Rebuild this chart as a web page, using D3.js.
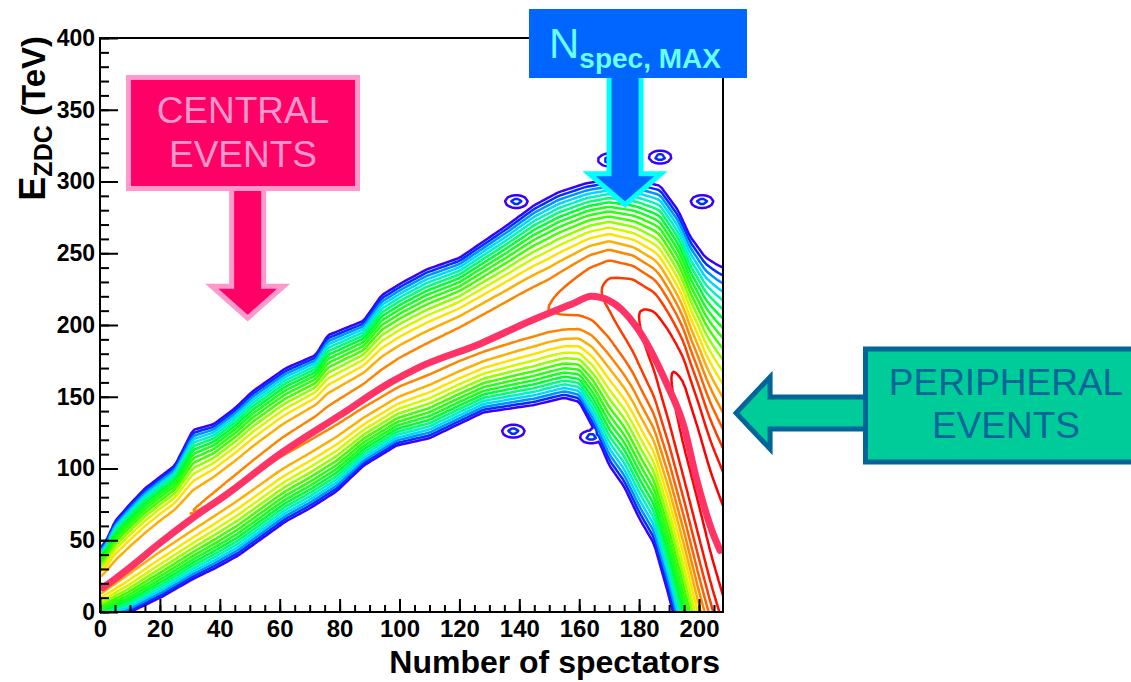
<!DOCTYPE html>
<html>
<head>
<meta charset="utf-8">
<script src="https://cdn.jsdelivr.net/npm/d3@7"></script>
<style>
  body { margin: 0; background: #fff; }
  svg { display: block; }
</style>
</head>
<body>
<div id="chart"></div>
<script>
// ridge line of the event band (centre of the densest region)
const ridgeX = [0, 10, 20, 30, 43, 60, 80, 100, 120, 140, 155, 164, 170, 178, 185, 190, 195, 200, 204, 208, 214];
const ridgeY = [18, 36, 53, 68, 88, 114, 140, 166, 186, 204, 216, 224, 224, 212, 192, 168, 140, 102, 68, 40, 0];
// outermost contour, upper side
const upperX = [0, 2, 5, 10, 15, 20, 25, 31, 38, 45, 51, 62, 72, 76, 88, 94, 101, 109, 120, 136, 145, 153, 162, 170, 180, 187, 193, 197, 202, 206, 214];
const upperY = [45, 50, 64, 76, 87, 95, 103, 128, 132, 143, 155, 171, 180, 194, 204, 222, 231, 240, 248, 271, 285, 294, 300, 303, 302, 299, 282, 264, 250, 245, 238];
// outermost contour, lower side
const lowerX = [0, 9, 21, 31, 38, 46, 62, 70, 79, 88, 99, 110, 128, 145, 155, 160, 165, 170, 175, 180, 185, 190, 195, 200, 214];
const lowerY = [-6, -2, 10, 22, 29, 38, 62, 71, 83, 101, 115, 120, 138, 143, 148, 145, 125, 100, 85, 63, 45, 8, -35, -80, -170];
// relative height of the band along x
const peakX = [0, 60, 120, 150, 165, 180, 195, 214];
const peakV = [0.72, 0.74, 0.76, 0.78, 0.82, 0.88, 0.95, 0.96];
// isolated small clusters
const islands = [[139, 286], [170, 315], [187, 317], [201, 286], [138, 126], [164, 122]];
// fitted curve
const fitX = [1, 5, 10, 20, 30, 43, 60, 80, 97, 106, 127, 145, 158, 164, 170, 179, 189, 195, 199, 204.6, 207];
const fitY = [17, 23, 31, 48, 64, 83, 110, 137, 160, 170, 187, 204, 215, 220, 217, 199, 160, 129, 94, 55, 43];

const xTicks = d3.range(0, 201, 20);
const xMinor = d3.range(0, 208, 5);
const yTicks = d3.range(0, 401, 50);
const yMinor = d3.range(0, 401, 10);

const W = 1131, H = 682;
const m = { left: 100, right: 723, top: 38, bottom: 612 };

const svg = d3.select('#chart').append('svg')
  .attr('width', W).attr('height', H)
  .attr('font-family', '"Liberation Sans", Arial, sans-serif');

const x = d3.scaleLinear().domain([0, 208]).range([m.left, m.right]);
const y = d3.scaleLinear().domain([0, 400]).range([m.bottom, m.top]);

// density table for the contour generator
const gx0 = -10, gdx = 1, nx = 230;
const gy0 = -120, gdy = 2.5, ny = 208;
const ridgeAt = d3.scaleLinear(ridgeX, ridgeY).clamp(true);
const upperAt = d3.scaleLinear(upperX, upperY).clamp(true);
const lowerAt = d3.scaleLinear(lowerX, lowerY).clamp(true);
const peakAt = d3.scaleLinear(peakX, peakV).clamp(true);

const values = new Float64Array(nx * ny);
for (let j = 0; j < ny; j++) {
  const yy = gy0 + (j + 0.5) * gdy;
  for (let i = 0; i < nx; i++) {
    const xx = gx0 + (i + 0.5) * gdx;
    const c = ridgeAt(xx);
    const t = yy >= c ? (yy - c) / (upperAt(xx) - c) : (c - yy) / (c - lowerAt(xx));
    let v = peakAt(xx) * (1 - t * t);
    islands.forEach(([ix, iy]) => {
      const d = Math.hypot((xx - ix) / 5, (yy - iy) / 6);
      v = Math.max(v, 0.12 * (1 - d));
    });
    values[j * nx + i] = v;
  }
}

const thresholds = d3.range(0.03, 0.99, 0.05);
const palette = d3.scaleLinear()
  .domain([0.03, 0.08, 0.13, 0.18, 0.25, 0.33, 0.48, 0.55, 0.62, 0.7, 0.8, 0.9])
  .range(['#3a00ff', '#0030ff', '#0090ff', '#00d8ff', '#00ffa0', '#00ff30', '#40ff00', '#b0ff00', '#ffee00', '#ff9900', '#ff5500', '#ff0000']);

const contours = d3.contours().size([nx, ny]).thresholds(thresholds)(values);
const proj = d3.geoTransform({
  point(px, py) { this.stream.point(x(gx0 + px * gdx), y(gy0 + py * gdy)); }
});
const path = d3.geoPath(proj);

svg.append('clipPath').attr('id', 'plot')
  .append('rect')
  .attr('x', m.left).attr('y', m.top)
  .attr('width', m.right - m.left).attr('height', m.bottom - m.top);

const plot = svg.append('g').attr('clip-path', 'url(#plot)');
plot.append('g')
  .attr('fill', 'none')
  .attr('stroke-width', 2.5)
  .attr('stroke-linejoin', 'round')
  .selectAll('path')
  .data(contours)
  .join('path')
  .attr('stroke', (d) => palette(d.value))
  .attr('d', path);

plot.append('path')
  .datum(d3.zip(fitX, fitY))
  .attr('fill', 'none')
  .attr('stroke', '#ff3366')
  .attr('stroke-width', 7)
  .attr('stroke-linecap', 'round')
  .attr('d', d3.line().x((d) => x(d[0])).y((d) => y(d[1])).curve(d3.curveMonotoneX));

// axes, ROOT style: ticks inside the frame
svg.append('g')
  .attr('transform', `translate(0,${m.bottom})`)
  .call(d3.axisBottom(x).tickValues(xMinor).tickSize(-7).tickFormat(''))
  .call((g) => g.select('.domain').remove());
svg.append('g')
  .attr('transform', `translate(0,${m.bottom})`)
  .call(d3.axisBottom(x).tickValues(xTicks).tickSize(-13).tickPadding(8))
  .call((g) => g.select('.domain').remove())
  .call((g) => g.selectAll('text').attr('font-size', 24).attr('font-weight', 'bold')
    .attr('font-family', '"Liberation Sans", Arial, sans-serif').attr('fill', '#000'));
svg.append('g')
  .attr('transform', `translate(${m.left},0)`)
  .call(d3.axisLeft(y).tickValues(yMinor).tickSize(-9).tickFormat(''))
  .call((g) => g.select('.domain').remove());
svg.append('g')
  .attr('transform', `translate(${m.left},0)`)
  .call(d3.axisLeft(y).tickValues(yTicks).tickSize(-18).tickPadding(5))
  .call((g) => g.select('.domain').remove())
  .call((g) => g.selectAll('text').attr('font-size', 23).attr('font-weight', 'bold')
    .attr('font-family', '"Liberation Sans", Arial, sans-serif').attr('fill', '#000'));
svg.selectAll('.tick line').attr('stroke', '#000').attr('stroke-width', 2);

svg.append('rect')
  .attr('x', m.left).attr('y', m.top)
  .attr('width', m.right - m.left).attr('height', m.bottom - m.top)
  .attr('fill', 'none').attr('stroke', '#000').attr('stroke-width', 2);

svg.append('text')
  .attr('x', 720).attr('y', 673)
  .attr('text-anchor', 'end')
  .attr('font-size', 32).attr('font-weight', 'bold')
  .text('Number of spectators');

const yTitle = svg.append('text')
  .attr('transform', 'translate(45,36) rotate(-90)')
  .attr('text-anchor', 'end')
  .attr('font-size', 33).attr('font-weight', 'bold');
yTitle.append('tspan').attr('font-size', 36).text('E');
yTitle.append('tspan').attr('font-size', 25).attr('dy', 7).text('ZDC');
yTitle.append('tspan').attr('dy', -7).text(' (TeV)');

// annotations (arrow tips anchored in data space)
const arrowDown = (tx, top, hb, tip) =>
  `M${tx - 16},${top}L${tx - 16},${hb}L${tx - 36},${hb}L${tx},${tip}L${tx + 36},${hb}L${tx + 16},${hb}L${tx + 16},${top}`;

// central events
const cx = x(49.3), ctip = y(202);
svg.append('path')
  .attr('d', arrowDown(cx, 188, ctip - 36, ctip - 4))
  .attr('fill', '#ff0066').attr('stroke', '#ff99cc').attr('stroke-width', 5);
svg.append('rect')
  .attr('x', 128.5).attr('y', 77.5).attr('width', 229).attr('height', 111)
  .attr('fill', '#ff0066').attr('stroke', '#ff99cc').attr('stroke-width', 5);
svg.append('g')
  .attr('fill', '#ff99cc').attr('font-size', 37).attr('text-anchor', 'middle')
  .selectAll('text')
  .data(['CENTRAL', 'EVENTS'])
  .join('text')
  .attr('x', 243).attr('y', (d, i) => 123 + i * 44)
  .text((d) => d);

// N spec max
const bx = x(175.3), btip = y(281);
svg.append('path')
  .attr('d', arrowDown(bx, 78, btip - 35, btip - 4))
  .attr('fill', '#0066ff').attr('stroke', '#00ffff').attr('stroke-width', 5);
svg.append('rect')
  .attr('x', 529).attr('y', 9).attr('width', 218).attr('height', 69)
  .attr('fill', '#0066ff');
const nText = svg.append('text')
  .attr('x', 549).attr('y', 58)
  .attr('fill', '#66ffff').attr('font-size', 42);
nText.append('tspan').text('N');
nText.append('tspan').attr('font-size', 28).attr('font-weight', 'bold').attr('dy', 10).text('spec, MAX');

// peripheral events
const px = x(211.7), py = y(138.7);
svg.append('path')
  .attr('d', `M865,${py - 16}L${px + 36},${py - 16}L${px + 36},${py - 36}L${px + 2},${py}L${px + 36},${py + 36}L${px + 36},${py + 16}L865,${py + 16}`)
  .attr('fill', '#00cc99').attr('stroke', '#006699').attr('stroke-width', 5);
svg.append('rect')
  .attr('x', 865.5).attr('y', 349).attr('width', 300).attr('height', 113)
  .attr('fill', '#00cc99').attr('stroke', '#006699').attr('stroke-width', 5);
svg.append('g')
  .attr('fill', '#006699').attr('font-size', 37).attr('text-anchor', 'middle')
  .selectAll('text')
  .data(['PERIPHERAL', 'EVENTS'])
  .join('text')
  .attr('x', 1006).attr('y', (d, i) => 395 + i * 43)
  .text((d) => d);
</script>
</body>
</html>
